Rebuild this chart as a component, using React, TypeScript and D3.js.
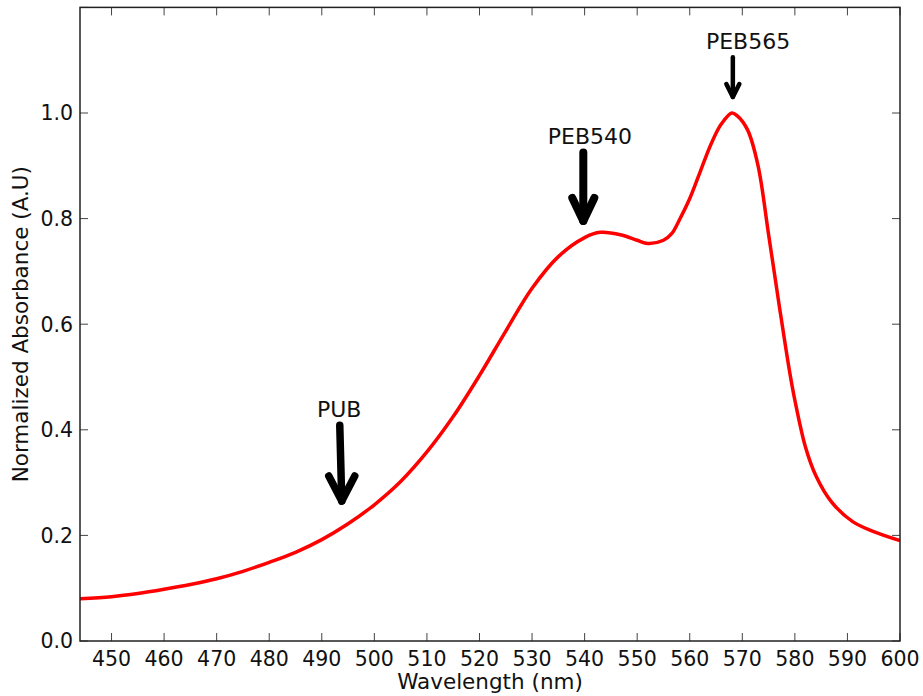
import React from "react";
import * as d3 from "d3";

// Absorbance spectrum, normalized to the 568 nm maximum
const wavelengths = [
  444, 450, 455, 460, 465, 470, 475, 480, 485, 490, 495, 500, 505, 510, 515,
  520, 525, 530, 535, 540, 543, 547, 550, 552, 555, 556.6, 558, 560, 562, 564,
  566, 568, 569, 571, 573, 575, 577, 579, 580, 582, 584, 587, 591, 595, 600,
];
const absorbance = [
  0.08, 0.084, 0.09, 0.098, 0.107, 0.118, 0.132, 0.149, 0.168, 0.192, 0.222,
  0.258, 0.302, 0.358, 0.425, 0.503, 0.587, 0.668, 0.728, 0.764, 0.774, 0.769,
  0.759, 0.753, 0.759, 0.772, 0.797, 0.838, 0.889, 0.94, 0.979, 1.0, 0.995,
  0.968, 0.9, 0.77, 0.637, 0.51, 0.456, 0.368, 0.313, 0.263, 0.226, 0.207,
  0.19,
];

const xTicks = [450, 460, 470, 480, 490, 500, 510, 520, 530, 540, 550, 560, 570, 580, 590, 600];
const yTicks = [0, 0.2, 0.4, 0.6, 0.8, 1.0, 1.2];

// Peak annotations: arrow tip, arrow tail and label anchor in data coordinates
const annotationLabels = ["PUB", "PEB540", "PEB565"];
const tipWavelength = [493.8, 539.75, 568.2];
const tipValue = [0.258, 0.788, 1.026];
const tailValue = [0.4155, 0.933, 1.11];
const labelWavelength = [493.3, 541.0, 571.1];
const labelValue = [0.425, 0.941, 1.1206];

// Arrow styling per annotation
const arrowStyles = [
  { width: 7.5, headHalf: 13, headLen: 25, lean: -2 },
  { width: 8, headHalf: 11, headLen: 23, lean: 0 },
  { width: 4.5, headHalf: 6.5, headLen: 13, lean: 0 },
];

const W = 923;
const H = 696;
const margin = { left: 80, right: 23, top: 7.4, bottom: 55 };
const FONT = "'DejaVu Sans', sans-serif";

export default function App() {
  const x = d3
    .scaleLinear()
    .domain([444, 600])
    .range([margin.left, W - margin.right]);
  const y = d3
    .scaleLinear()
    .domain([0, 1.2])
    .range([H - margin.bottom, margin.top]);

  const points: [number, number][] = wavelengths.map((w, i) => [w, absorbance[i]]);
  const line = d3
    .line<[number, number]>()
    .x((d) => x(d[0]))
    .y((d) => y(d[1]))
    .curve(d3.curveCatmullRom.alpha(0.5));

  const [x0, x1] = x.range();
  const [y0, y1] = y.range();
  const tickLen = 8;
  const tickColor = "#444";

  return (
    <svg
      width={W}
      height={H}
      style={{ position: "absolute", left: 0, top: 0, display: "block", background: "#fff" }}
      fontFamily={FONT}
    >
      <defs>
        <clipPath id="plot-clip">
          <rect x={x0} y={y1} width={x1 - x0} height={y0 - y1} />
        </clipPath>
      </defs>

      <path
        d={line(points) ?? ""}
        fill="none"
        stroke="#ff0000"
        strokeWidth={3.5}
        strokeLinejoin="round"
        clipPath="url(#plot-clip)"
      />

      {/* ticks on all four sides, pointing inward */}
      {xTicks.map((t) => (
        <g key={"x" + t}>
          <line x1={x(t)} x2={x(t)} y1={y0} y2={y0 - tickLen} stroke={tickColor} strokeWidth={1} />
          <line x1={x(t)} x2={x(t)} y1={y1} y2={y1 + tickLen} stroke={tickColor} strokeWidth={1} />
          <text x={x(t)} y={666} textAnchor="middle" fontSize={20.5} fill="#111">
            {t}
          </text>
        </g>
      ))}
      {yTicks.map((t) => (
        <g key={"y" + t}>
          <line x1={x0} x2={x0 + tickLen} y1={y(t)} y2={y(t)} stroke={tickColor} strokeWidth={1} />
          <line x1={x1} x2={x1 - tickLen} y1={y(t)} y2={y(t)} stroke={tickColor} strokeWidth={1} />
          {t < 1.1 && (
            <text x={73} y={y(t)} dy="0.36em" textAnchor="end" fontSize={20.5} fill="#111">
              {t.toFixed(1)}
            </text>
          )}
        </g>
      ))}

      <rect
        x={x0}
        y={y1}
        width={x1 - x0}
        height={y0 - y1}
        fill="none"
        stroke="#222"
        strokeWidth={1.5}
      />

      {/* peak annotations */}
      {annotationLabels.map((label, i) => {
        const s = arrowStyles[i];
        const tx = x(tipWavelength[i]);
        const ty = y(tipValue[i]) - s.width / 2;
        const shaftTop = y(tailValue[i]) + s.width / 2;
        return (
          <g key={label}>
            <text
              x={x(labelWavelength[i])}
              y={y(labelValue[i])}
              textAnchor="middle"
              fontSize={22}
              fill="#111"
            >
              {label}
            </text>
            <path
              d={`M${tx + s.lean},${shaftTop} L${tx},${ty}`}
              stroke="#000"
              strokeWidth={s.width}
              strokeLinecap="round"
              fill="none"
            />
            <path
              d={`M${tx - s.headHalf},${ty - s.headLen} L${tx},${ty} L${tx + s.headHalf},${ty - s.headLen}`}
              stroke="#000"
              strokeWidth={s.width}
              strokeLinecap="round"
              strokeLinejoin="round"
              fill="none"
            />
          </g>
        );
      })}

      <text x={(x0 + x1) / 2} y={689} textAnchor="middle" fontSize={21.5} fill="#111">
        Wavelength (nm)
      </text>
      <text
        transform={`translate(28, ${(y0 + y1) / 2}) rotate(-90)`}
        textAnchor="middle"
        fontSize={21.5}
        fill="#111"
      >
        Normalized Absorbance (A.U)
      </text>
    </svg>
  );
}
